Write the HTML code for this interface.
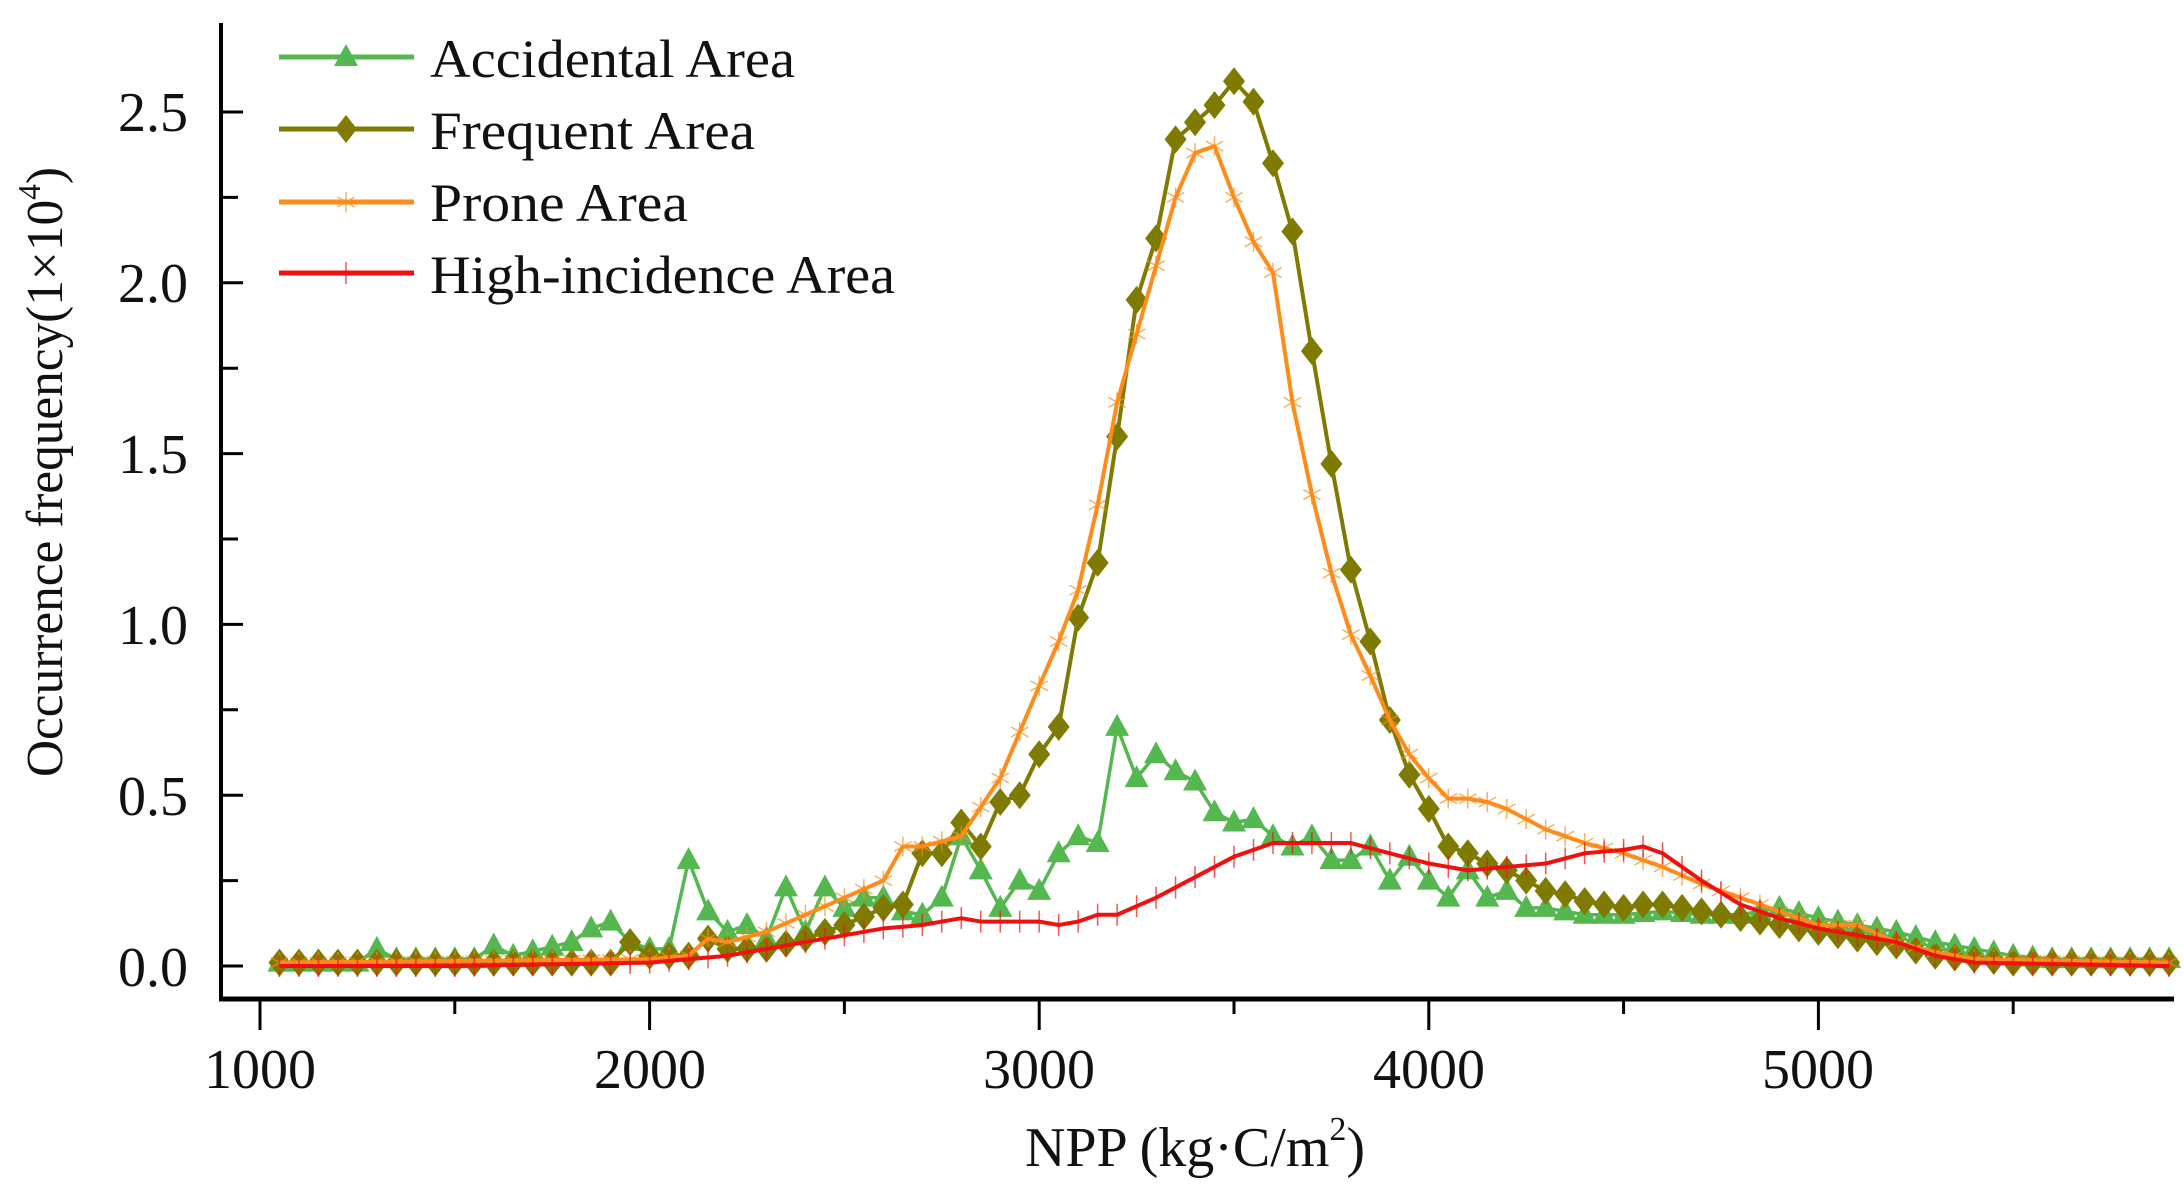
<!DOCTYPE html>
<html><head><meta charset="utf-8"><style>html,body{margin:0;padding:0;background:#fff}svg{display:block}text{font-family:"Liberation Serif",serif;fill:#111}</style></head>
<body>
<svg id="s" width="2184" height="1200" xmlns="http://www.w3.org/2000/svg">
<rect width="2184" height="1200" fill="#fff"/>
<g id="plot"></g>
<line x1="221" y1="23" x2="221" y2="1001" stroke="#000" stroke-width="4"/>
<line x1="219" y1="999" x2="2174" y2="999" stroke="#000" stroke-width="5"/>
<g id="ticks" stroke="#000" stroke-width="3"></g>
<g font-size="56" text-anchor="end">
<text x="188" y="986">0.0</text>
<text x="188" y="815">0.5</text>
<text x="188" y="644">1.0</text>
<text x="188" y="473">1.5</text>
<text x="188" y="302">2.0</text>
<text x="188" y="131">2.5</text>
</g>
<g font-size="56" text-anchor="middle">
<text x="260" y="1088">1000</text>
<text x="650" y="1088">2000</text>
<text x="1039" y="1088">3000</text>
<text x="1429" y="1088">4000</text>
<text x="1818" y="1088">5000</text>
<text x="1195" y="1166">NPP (kg·C/m<tspan font-size="34" dy="-26">2</tspan><tspan dy="26">)</tspan></text>
</g>
<text font-size="52" transform="translate(62,472) rotate(-90)" text-anchor="middle" textLength="610" lengthAdjust="spacingAndGlyphs">Occurrence frequency(1×10<tspan font-size="32" dy="-22">4</tspan><tspan dy="22">)</tspan></text>
<g id="legend"></g>
<g font-size="54">
<text x="430" y="77" textLength="365" lengthAdjust="spacingAndGlyphs">Accidental Area</text>
<text x="430" y="149" textLength="325" lengthAdjust="spacingAndGlyphs">Frequent Area</text>
<text x="430" y="221" textLength="258" lengthAdjust="spacingAndGlyphs">Prone Area</text>
<text x="430" y="293" textLength="465" lengthAdjust="spacingAndGlyphs">High-incidence Area</text>
</g>
</svg>
<script>
const NS="http://www.w3.org/2000/svg";
const X=v=>260+(v-1000)*0.3896, Y=v=>966-v*341.6;
function interp(k){const out=[];for(let x=1050;x<=5900;x+=50){let i=0;while(i<k.length-2&&k[i+1][0]<x)i++;let a=k[i],b=k[i+1];let t=(x-a[0])/(b[0]-a[0]);t=Math.max(0,Math.min(1,t));out.push([x,a[1]+(b[1]-a[1])*t]);}return out;}
const freq=interp([[1050,0.01],[1900,0.01],[1950,0.07],[2000,0.03],[2100,0.03],[2150,0.08],[2200,0.05],[2300,0.05],[2400,0.08],[2500,0.12],[2600,0.17],[2650,0.18],[2700,0.33],[2750,0.33],[2800,0.42],[2850,0.35],[2900,0.48],[2950,0.5],[3000,0.62],[3050,0.7],[3100,1.02],[3150,1.18],[3200,1.55],[3250,1.95],[3300,2.13],[3350,2.42],[3400,2.47],[3450,2.52],[3500,2.59],[3550,2.53],[3600,2.35],[3650,2.15],[3700,1.8],[3750,1.47],[3800,1.16],[3850,0.95],[3900,0.72],[3950,0.56],[4000,0.46],[4050,0.35],[4100,0.33],[4150,0.3],[4200,0.28],[4250,0.25],[4300,0.22],[4350,0.21],[4400,0.19],[4450,0.18],[4500,0.17],[4550,0.18],[4600,0.18],[4650,0.17],[4700,0.16],[4800,0.14],[4900,0.12],[5000,0.1],[5100,0.08],[5200,0.06],[5300,0.03],[5400,0.02],[5500,0.01],[5900,0.01]]);
const prone=interp([[1050,0.01],[2000,0.02],[2100,0.03],[2150,0.08],[2200,0.07],[2300,0.1],[2400,0.15],[2500,0.2],[2600,0.25],[2650,0.35],[2700,0.35],[2800,0.38],[2900,0.55],[3000,0.82],[3050,0.95],[3100,1.1],[3150,1.35],[3200,1.65],[3250,1.85],[3300,2.05],[3350,2.25],[3400,2.38],[3450,2.4],[3500,2.25],[3550,2.12],[3600,2.03],[3650,1.65],[3700,1.38],[3750,1.15],[3800,0.97],[3850,0.85],[3900,0.72],[3950,0.62],[4000,0.55],[4050,0.49],[4100,0.49],[4150,0.48],[4200,0.46],[4300,0.4],[4400,0.36],[4500,0.33],[4600,0.29],[4700,0.24],[4800,0.2],[4900,0.16],[5000,0.12],[5100,0.12],[5200,0.07],[5300,0.04],[5400,0.02],[5900,0.01]]);
const high=interp([[1050,0],[1500,0],[2000,0.01],[2100,0.02],[2200,0.03],[2400,0.07],[2500,0.09],[2600,0.11],[2700,0.12],[2800,0.14],[2850,0.13],[3000,0.13],[3050,0.12],[3100,0.13],[3150,0.15],[3200,0.15],[3300,0.2],[3400,0.26],[3500,0.32],[3600,0.36],[3800,0.36],[3900,0.33],[4000,0.3],[4100,0.28],[4200,0.29],[4300,0.3],[4400,0.33],[4500,0.34],[4550,0.35],[4600,0.33],[4700,0.25],[4800,0.18],[4900,0.14],[5000,0.11],[5100,0.09],[5200,0.07],[5300,0.03],[5400,0.01],[5900,0]]);
const acc=interp([[1050,0.01],[1250,0.01],[1300,0.05],[1350,0.02],[1550,0.02],[1600,0.06],[1650,0.03],[1800,0.07],[1850,0.11],[1900,0.13],[1950,0.07],[2000,0.05],[2050,0.05],[2100,0.31],[2150,0.16],[2200,0.1],[2250,0.12],[2300,0.08],[2350,0.23],[2400,0.1],[2450,0.23],[2500,0.17],[2550,0.2],[2600,0.2],[2650,0.16],[2700,0.15],[2750,0.2],[2800,0.38],[2850,0.28],[2900,0.17],[2950,0.25],[3000,0.22],[3050,0.33],[3100,0.38],[3150,0.36],[3200,0.7],[3250,0.55],[3300,0.62],[3350,0.57],[3400,0.54],[3450,0.45],[3500,0.42],[3550,0.43],[3600,0.38],[3650,0.35],[3700,0.38],[3750,0.31],[3800,0.31],[3850,0.35],[3900,0.25],[3950,0.32],[4000,0.25],[4050,0.2],[4100,0.28],[4150,0.2],[4200,0.22],[4250,0.17],[4300,0.17],[4400,0.15],[4500,0.15],[4600,0.16],[4700,0.15],[4800,0.15],[4900,0.17],[5000,0.14],[5100,0.12],[5200,0.1],[5300,0.07],[5400,0.05],[5500,0.03],[5600,0.02],[5900,0.02]]);
const P=document.getElementById('plot');
function el(t,a,p){const e=document.createElementNS(NS,t);for(const k in a)e.setAttribute(k,a[k]);(p||P).appendChild(e);return e;}
function mark(type,x,y,c,p){
 if(type=='tri')el('polygon',{points:`${x},${y-13} ${x-12},${y+9} ${x+12},${y+9}`,fill:c},p);
 else if(type=='dia')el('polygon',{points:`${x},${y-14} ${x+11},${y} ${x},${y+14} ${x-11},${y}`,fill:c},p);
 else if(type=='star'){for(const a of [0,60,120]){const r=a*Math.PI/180;el('line',{x1:x-10*Math.sin(r),y1:y-10*Math.cos(r),x2:x+10*Math.sin(r),y2:y+10*Math.cos(r),stroke:c,'stroke-width':1.5,opacity:0.7},p);}}
 else el('line',{x1:x,y1:y-11,x2:x,y2:y+11,stroke:c,'stroke-width':1.5,opacity:0.7},p);
}
function series(d,c,type,w){
 el('polyline',{points:d.map(p=>X(p[0])+','+Y(p[1])).join(' '),fill:'none',stroke:c,'stroke-width':w,'stroke-linejoin':'round'});
 d.forEach(p=>mark(type,X(p[0]),Y(p[1]),c));
}
series(acc,'#55b74f','tri',3.5);
series(freq,'#7f7a00','dia',4);
series(prone,'#ff8c1a','star',4);
series(high,'#f01010','plus',4);
const T=document.getElementById('ticks');
for(let i=0;i<=10;i++){const y=966-i*85.4;el('line',{x1:221,y1:y,x2:i%2==0?243:238,y2:y},T);}
for(let v=1000;v<=5500;v+=500){const x=X(v);el('line',{x1:x,y1:1000,x2:x,y2:v%1000==0?1030:1014},T);}
const L=document.getElementById('legend');
const leg=[[57,'#55b74f','tri'],[129,'#7f7a00','dia'],[202,'#ff8c1a','star'],[273,'#f01010','plus']];
leg.forEach(([y,c,t])=>{el('line',{x1:279,y1:y,x2:414,y2:y,stroke:c,'stroke-width':5},L);mark(t,346,y,c,L);});
</script>
</body></html>
